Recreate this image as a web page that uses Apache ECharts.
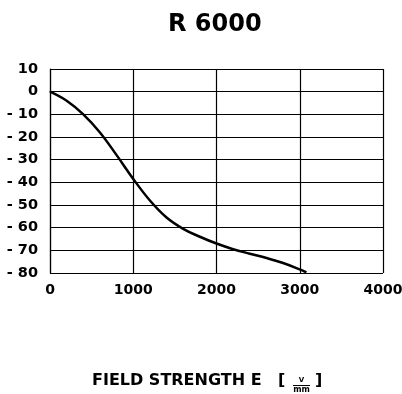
<!DOCTYPE html>
<html>
<head>
<meta charset="utf-8">
<script src="https://cdn.jsdelivr.net/npm/echarts@6/dist/echarts.min.js"></script>
<style>html,body{margin:0;padding:0;background:#fff}#c{width:402px;height:394px}</style>
</head>
<body>
<div id="c"></div>
<script>
const titleText = "R 6000";
const xName = "FIELD STRENGTH E";
const xTicks = [0, 1000, 2000, 3000, 4000];
const yTicks = [10, 0, -10, -20, -30, -40, -50, -60, -70, -80];
const fieldX = [0, 200, 400, 600, 800, 1000, 1200, 1400, 1600, 1800, 2000, 2200, 2400, 2600, 2800, 3000, 3080];
const valueY = [0, -4, -10, -18, -28, -38.5, -48, -55.5, -60.5, -64, -67, -69.5, -71.5, -73.4, -75.6, -78.4, -79.7];

const chart = echarts.init(document.getElementById('c'), null, {renderer: 'canvas'});
const font = '"DejaVu Sans", sans-serif';
chart.setOption({
  animation: false,
  title: {
    text: titleText, left: 163, top: 8,
    textStyle: {fontFamily: font, fontWeight: 900, fontSize: 24, color: '#000'}
  },
  grid: {left: 50, right: 19, top: 69, bottom: 121, containLabel: false, outerBoundsMode: 'none'},
  xAxis: {
    type: 'value', min: 0, max: 4000, interval: 1000,
    axisLine: {show: true, lineStyle: {color: '#000', width: 1.2}},
    axisTick: {show: false},
    splitLine: {show: true, lineStyle: {color: '#000', width: 1.2}},
    axisLabel: {margin: 10, fontFamily: font, fontWeight: 'bold', fontSize: 14, color: '#000',
      formatter: v => String(v)}
  },
  yAxis: {
    type: 'value', min: -80, max: 10, interval: 10,
    axisLine: {show: true, lineStyle: {color: '#000', width: 1.2}},
    axisTick: {show: false},
    splitLine: {show: true, lineStyle: {color: '#000', width: 1.2}},
    axisLabel: {margin: 12, fontFamily: font, fontWeight: 'bold', fontSize: 14.5, color: '#000',
      formatter: v => v < 0 ? '- ' + Math.abs(v) : String(v)}
  },
  series: [{
    type: 'line', smooth: 0.4, symbol: 'none',
    lineStyle: {color: '#000', width: 2.5},
    data: fieldX.map((x, i) => [x, valueY[i]])
  }],
  graphic: [
    {type: 'text', left: 92, top: 373, style: {text: xName, fontFamily: font, fontWeight: 'bold', fontSize: 16, fill: '#000'}},
    {type: 'text', left: 278, top: 373, style: {text: '[', fontFamily: font, fontWeight: 'bold', fontSize: 16, fill: '#000'}},
    {type: 'text', style: {x: 301.5, y: 377, text: 'V', textAlign: 'center', fontFamily: font, fontWeight: 'bold', fontSize: 7, fill: '#000'}},
    {type: 'line', shape: {x1: 293, y1: 385.5, x2: 310, y2: 385.5}, style: {stroke: '#000', lineWidth: 1}},
    {type: 'text', style: {x: 301.5, y: 386, text: 'mm', textAlign: 'center', fontFamily: font, fontWeight: 'bold', fontSize: 8, fill: '#000'}},
    {type: 'text', left: 315, top: 373, style: {text: ']', fontFamily: font, fontWeight: 'bold', fontSize: 16, fill: '#000'}}
  ]
});
</script>
</body>
</html>
